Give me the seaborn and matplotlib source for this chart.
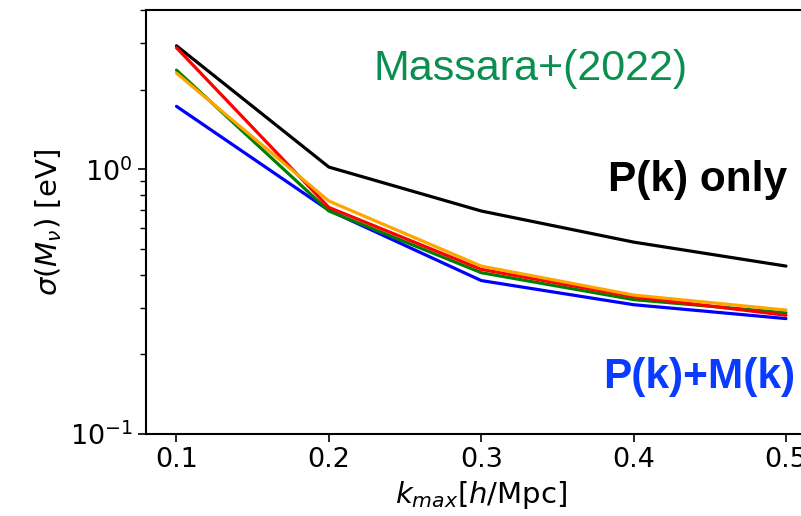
import numpy as np
import pandas as pd
import matplotlib
matplotlib.use("Agg")
import matplotlib.pyplot as plt
import seaborn as sns

# k_max values and sigma(M_nu) for each curve
kmax = [0.1, 0.2, 0.3, 0.4, 0.5]
pk_only = [2.93, 1.02, 0.696, 0.531, 0.431]
curve_blue = [1.73, 0.700, 0.380, 0.308, 0.273]
curve_green = [2.37, 0.696, 0.407, 0.322, 0.287]
curve_red = [2.88, 0.718, 0.419, 0.330, 0.281]
curve_orange = [2.31, 0.759, 0.431, 0.335, 0.294]

series = ["black", "blue", "green", "red", "orange"]
values = [pk_only, curve_blue, curve_green, curve_red, curve_orange]

df = pd.concat([pd.DataFrame({"kmax": kmax, "sigma": v, "curve": s})
                for s, v in zip(series, values)], ignore_index=True)

sns.set_style("ticks")
plt.rcParams['font.family'] = ['DejaVu Sans']

fig = plt.figure(figsize=(8.01, 5.16), dpi=100)
ax = fig.add_axes([0.1823, 0.1589, 0.837, 0.8217])

sns.lineplot(data=df, x="kmax", y="sigma", hue="curve", palette={s: s for s in series},
             linewidth=2.3, ax=ax, legend=False)

ax.set_yscale("log")
ax.set_xlim(0.08, 0.52)
ax.set_ylim(0.1, 4.0)
ax.set_xticks(kmax)
ax.tick_params(labelsize=19.5, width=1.2, length=6, colors="black")
ax.tick_params(which="minor", width=1.0, length=4, colors="black")
ax.set_xlabel(r"$k_{max}[h/\mathrm{Mpc}]$", fontsize=21, color="black")
ax.set_ylabel(r"$\sigma(M_\nu)$ [eV]", fontsize=21, color="black")
for sp in ax.spines.values():
    sp.set_linewidth(1.5)
    sp.set_color("black")

ax.text(0.574, 0.862, "Massara+(2022)", transform=ax.transAxes, color="#0a8f50",
        fontsize=31, family="Liberation Sans", ha="center", va="center")
ax.text(0.956, 0.60, "P(k) only", transform=ax.transAxes, color="black",
        fontsize=30.5, family="Liberation Sans", weight="bold", ha="right", va="center")
ax.text(0.968, 0.135, "P(k)+M(k)", transform=ax.transAxes, color="#0a3cff",
        fontsize=30.5, family="Liberation Sans", weight="bold", ha="right", va="center")

fig.savefig("out.png", dpi=100)
